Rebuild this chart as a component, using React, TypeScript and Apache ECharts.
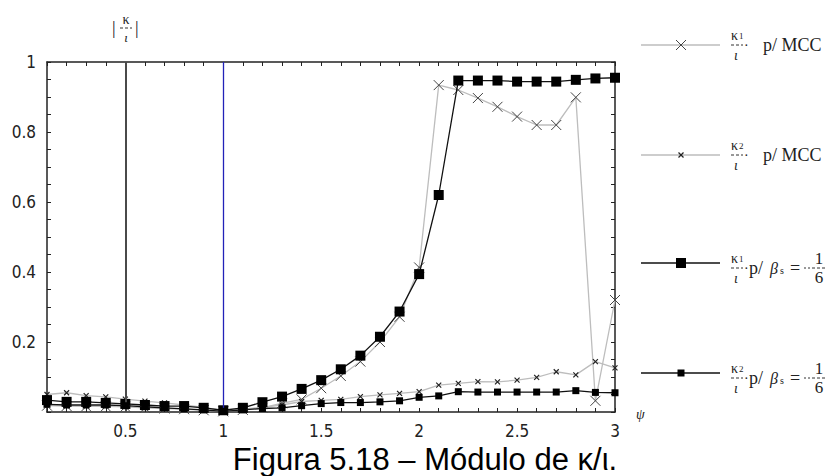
import React, { useEffect, useRef } from "react";
import * as echarts from "echarts";

const psi = [0.1, 0.2, 0.3, 0.4, 0.5, 0.6, 0.7, 0.8, 0.9, 1.0, 1.1, 1.2, 1.3, 1.4, 1.5, 1.6, 1.7, 1.8, 1.9, 2.0, 2.1, 2.2, 2.3, 2.4, 2.5, 2.6, 2.7, 2.8, 2.9, 3.0];
const k1MCC = [0.018, 0.017, 0.016, 0.016, 0.015, 0.012, 0.01, 0.008, 0.005, 0.002, 0.006, 0.012, 0.025, 0.036, 0.068, 0.103, 0.144, 0.2, 0.272, 0.413, 0.934, 0.92, 0.897, 0.872, 0.844, 0.82, 0.82, 0.899, 0.032, 0.32];
const k2MCC = [0.05, 0.055, 0.047, 0.043, 0.037, 0.031, 0.026, 0.02, 0.013, 0.004, 0.008, 0.013, 0.02, 0.03, 0.033, 0.036, 0.044, 0.049, 0.053, 0.058, 0.077, 0.082, 0.087, 0.086, 0.091, 0.099, 0.115, 0.106, 0.144, 0.126];
const k1Beta = [0.034, 0.029, 0.029, 0.026, 0.023, 0.02, 0.017, 0.017, 0.012, 0.005, 0.012, 0.028, 0.044, 0.066, 0.091, 0.122, 0.161, 0.215, 0.287, 0.394, 0.62, 0.947, 0.947, 0.947, 0.944, 0.944, 0.944, 0.949, 0.953, 0.955];
const k2Beta = [0.022, 0.02, 0.02, 0.02, 0.018, 0.015, 0.012, 0.009, 0.006, 0.002, 0.006, 0.01, 0.012, 0.018, 0.024, 0.027, 0.027, 0.029, 0.032, 0.042, 0.046, 0.058, 0.057, 0.057, 0.057, 0.057, 0.057, 0.061, 0.056, 0.055];
const vLines = [0.5, 1];
const caption = "Figura 5.18 – Módulo de κ/ι.";

const NARROW = '"Liberation Sans Narrow", "DejaVu Sans Condensed", "Arial Narrow", sans-serif';
const SERIF = '"Liberation Serif", "DejaVu Serif", serif';

function pairs(ys: number[]) {
  return psi.map((x, i) => [x, ys[i]]);
}

const XSYM = "path://M0,0L10,10M10,0L0,10";

function legendEntry(y: number, sub: string, kind: "mcc" | "beta", marker: string): any[] {
  const els: any[] = [];
  const gray = kind === "mcc";
  const lc = gray ? "#bdbdbd" : "#111";
  els.push({ type: "line", shape: { x1: 641, y1: y, x2: 720, y2: y }, style: { stroke: lc, lineWidth: 1.5 } });
  const mx = 681;
  if (marker === "X") {
    els.push({ type: "line", shape: { x1: mx - 5, y1: y - 5, x2: mx + 5, y2: y + 5 }, style: { stroke: "#444", lineWidth: 1 } });
    els.push({ type: "line", shape: { x1: mx + 5, y1: y - 5, x2: mx - 5, y2: y + 5 }, style: { stroke: "#444", lineWidth: 1 } });
  } else if (marker === "x") {
    els.push({ type: "line", shape: { x1: mx - 2.5, y1: y - 2.5, x2: mx + 2.5, y2: y + 2.5 }, style: { stroke: "#222", lineWidth: 1.2 } });
    els.push({ type: "line", shape: { x1: mx + 2.5, y1: y - 2.5, x2: mx - 2.5, y2: y + 2.5 }, style: { stroke: "#222", lineWidth: 1.2 } });
  } else if (marker === "S") {
    els.push({ type: "rect", shape: { x: mx - 5, y: y - 5, width: 10, height: 10 }, style: { fill: "#000" } });
  } else {
    els.push({ type: "rect", shape: { x: mx - 3.5, y: y - 3.5, width: 7, height: 7 }, style: { fill: "#000" } });
  }
  const ym = kind === "mcc" ? y : y + 5;
  const fx = 731;
  els.push({ type: "text", x: fx, y: ym - 3, style: { text: "κ", font: `14px ${SERIF}`, fill: "#222", textVerticalAlign: "bottom" } });
  els.push({ type: "text", x: fx + 8, y: ym - 5, style: { text: sub, font: `9px ${SERIF}`, fill: "#222", textVerticalAlign: "bottom" } });
  els.push({ type: "line", shape: { x1: fx, y1: ym, x2: fx + 12, y2: ym }, style: { stroke: "#333", lineWidth: 1, lineDash: [3, 2] } });
  els.push({ type: "text", x: fx + 13, y: ym, style: { text: "·", font: `14px ${SERIF}`, fill: "#222", textVerticalAlign: "middle" } });
  els.push({ type: "text", x: fx + 3, y: ym + 3, style: { text: "ι", font: `italic 14px ${SERIF}`, fill: "#222", textVerticalAlign: "top" } });
  if (kind === "mcc") {
    els.push({ type: "text", x: 763, y: ym, style: { text: "p/ MCC", font: `18px ${SERIF}`, fill: "#222", textVerticalAlign: "middle" } });
  } else {
    els.push({ type: "text", x: 749, y: ym, style: { text: "p/", font: `18px ${SERIF}`, fill: "#222", textVerticalAlign: "middle" } });
    els.push({ type: "text", x: 770, y: ym, style: { text: "β", font: `italic 16px ${SERIF}`, fill: "#222", textVerticalAlign: "middle" } });
    els.push({ type: "text", x: 780, y: ym + 2, style: { text: "s", font: `10px ${SERIF}`, fill: "#222", textVerticalAlign: "middle" } });
    els.push({ type: "text", x: 790, y: ym, style: { text: "=", font: `18px ${SERIF}`, fill: "#222", textVerticalAlign: "middle" } });
    els.push({ type: "line", shape: { x1: 804, y1: ym, x2: 810, y2: ym }, style: { stroke: "#333", lineWidth: 1, lineDash: [2, 2] } });
    els.push({ type: "text", x: 819, y: ym - 1, style: { text: "1", font: `17px ${SERIF}`, fill: "#222", textAlign: "center", textVerticalAlign: "bottom" } });
    els.push({ type: "line", shape: { x1: 812, y1: ym, x2: 826, y2: ym }, style: { stroke: "#333", lineWidth: 1, lineDash: [3, 2] } });
    els.push({ type: "text", x: 819, y: ym + 1, style: { text: "6", font: `17px ${SERIF}`, fill: "#222", textAlign: "center", textVerticalAlign: "top" } });
  }
  return els;
}

export default function App() {
  const ref = useRef<HTMLDivElement>(null);
  useEffect(() => {
    if (!ref.current) return;
    const chart = echarts.init(ref.current, null, { renderer: "svg" });
    const axisCommon = {
      type: "value" as const,
      axisLine: { show: true, onZero: false, lineStyle: { color: "#222", width: 1.5 } },
      axisTick: { show: true, inside: true, length: 4, lineStyle: { color: "#222", width: 1 } },
      splitLine: { show: false },
    };
    const xLabel = (v: number) => {
      const k = Math.round(v * 10);
      return k % 5 === 0 ? String(k / 10) : "";
    };
    const yLabel = (v: number) => {
      const k = Math.round(v * 20);
      return k % 4 === 0 && k > 0 ? String(k / 20) : "";
    };
    const labelStyle = { fontFamily: NARROW, fontSize: 17, color: "#222" };
    const option: any = {
      animation: false,
      grid: { left: 47, top: 62, right: 213, bottom: 64, containLabel: false },
      xAxis: [
        { ...axisCommon, position: "bottom", min: 0.1, max: 3, interval: 0.1, axisLabel: { ...labelStyle, formatter: xLabel, margin: 10, showMinLabel: true, showMaxLabel: true } },
        { ...axisCommon, position: "top", min: 0.1, max: 3, interval: 0.1, axisLabel: { show: false } },
      ],
      yAxis: [
        { ...axisCommon, position: "left", min: 0, max: 1, interval: 0.05, axisLabel: { ...labelStyle, formatter: yLabel, margin: 11 } },
        { ...axisCommon, position: "right", min: 0, max: 1, interval: 0.05, axisLabel: { show: false } },
      ],
      series: [
        {
          type: "line", data: pairs(k1MCC), symbol: XSYM, symbolSize: 10, showAllSymbol: true,
          lineStyle: { color: "#bdbdbd", width: 1.3 },
          itemStyle: { color: "transparent", borderColor: "#444", borderWidth: 1 },
          z: 2,
          markLine: {
            silent: true, symbol: ["none", "none"], label: { show: false },
            data: [
              { xAxis: vLines[0], lineStyle: { color: "#4a4a4a", width: 2, type: "solid" } },
              { xAxis: vLines[1], lineStyle: { color: "#2222b8", width: 1.3, type: "solid" } },
            ],
          },
        },
        {
          type: "line", data: pairs(k2MCC), symbol: XSYM, symbolSize: 5, showAllSymbol: true,
          lineStyle: { color: "#bdbdbd", width: 1.3 },
          itemStyle: { color: "transparent", borderColor: "#222", borderWidth: 1.2 },
          z: 3,
        },
        {
          type: "line", data: pairs(k1Beta), symbol: "rect", symbolSize: 10, showAllSymbol: true,
          lineStyle: { color: "#111", width: 1.3 },
          itemStyle: { color: "#000" },
          z: 4,
        },
        {
          type: "line", data: pairs(k2Beta), symbol: "rect", symbolSize: 7, showAllSymbol: true,
          lineStyle: { color: "#111", width: 1.3 },
          itemStyle: { color: "#000" },
          z: 5,
        },
      ],
      graphic: [
        // y axis name |κ/ι|
        { type: "text", x: 112, y: 28, style: { text: "|", font: `18px ${SERIF}`, fill: "#222", textVerticalAlign: "middle" } },
        { type: "text", x: 135, y: 28, style: { text: "|", font: `18px ${SERIF}`, fill: "#222", textVerticalAlign: "middle" } },
        { type: "text", x: 126, y: 26, style: { text: "κ", font: `14px ${SERIF}`, fill: "#222", textAlign: "center", textVerticalAlign: "bottom" } },
        { type: "line", shape: { x1: 120, y1: 28, x2: 132, y2: 28 }, style: { stroke: "#333", lineWidth: 1, lineDash: [3, 2] } },
        { type: "text", x: 126, y: 31, style: { text: "ι", font: `italic 13px ${SERIF}`, fill: "#222", textAlign: "center", textVerticalAlign: "top" } },
        // x axis name
        { type: "text", x: 636, y: 414, style: { text: "ψ", font: `italic 14px ${SERIF}`, fill: "#222", textVerticalAlign: "middle" } },
        // legend
        ...legendEntry(45, "1", "mcc", "X"),
        ...legendEntry(155, "2", "mcc", "x"),
        ...legendEntry(263, "1", "beta", "S"),
        ...legendEntry(373, "2", "beta", "s"),
        // caption
        { type: "text", x: 425, y: 459, style: { text: caption, font: `31px "Liberation Sans", Arial, sans-serif`, fill: "#000", textAlign: "center", textVerticalAlign: "middle" } },
      ],
    };
    chart.setOption(option);
    return () => chart.dispose();
  }, []);
  return <div ref={ref} style={{ width: 828, height: 476, position: "absolute", left: 0, top: 0, background: "#fff" }} />;
}
